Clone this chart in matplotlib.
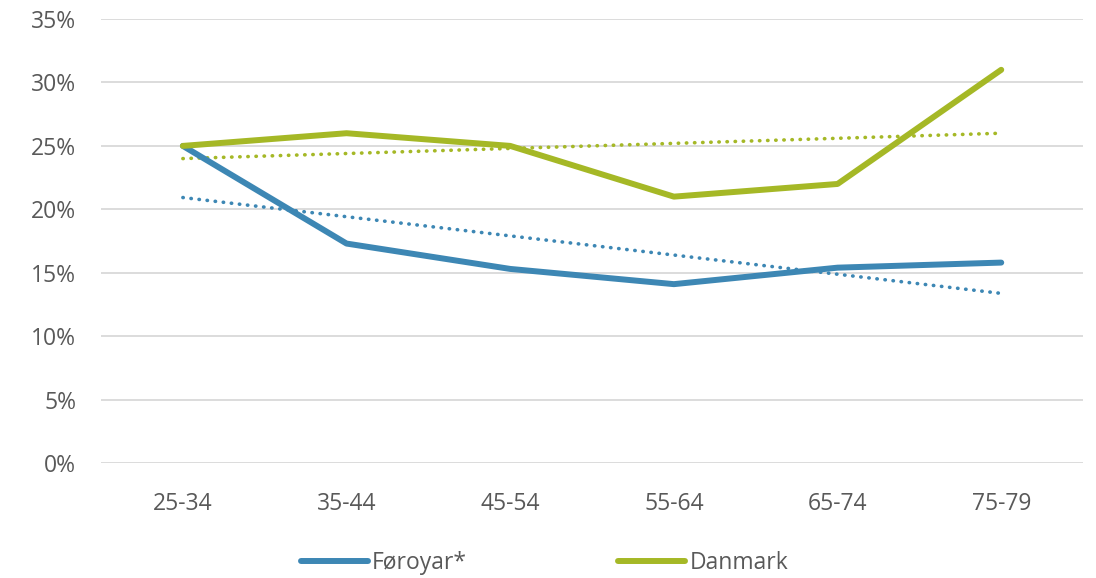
import numpy as np
import matplotlib
matplotlib.use("Agg")
import matplotlib.pyplot as plt
from matplotlib.ticker import FuncFormatter

# age groups and shares (%)
age_groups = ["25-34", "35-44", "45-54", "55-64", "65-74", "75-79"]
foroyar = [25.0, 17.3, 15.3, 14.1, 15.4, 15.8]
danmark = [25.0, 26.0, 25.0, 21.0, 22.0, 31.0]

blue = "#3d87b4"
green = "#a5b826"
text_col = "#595959"

plt.rcParams['font.family'] = ['Open Sans', 'DejaVu Sans']

fig = plt.figure(figsize=(10.96, 5.78), dpi=100)
ax = fig.add_axes([0.0922, 0.199, 0.896, 0.768])

x = np.arange(len(age_groups))

# linear trendlines like Excel
for vals, col in [(foroyar, blue), (danmark, green)]:
    k, b = np.polyfit(x, vals, 1)
    ax.plot(x, k * x + b, color=col, lw=2.6, linestyle=(0, (0.1, 2.15)),
            dash_capstyle='round', zorder=2)

ax.plot(x, foroyar, color=blue, lw=4.3, solid_capstyle='round', label="Føroyar*", zorder=3)
ax.plot(x, danmark, color=green, lw=4.3, solid_capstyle='round', label="Danmark", zorder=3)

ax.set_xlim(-0.5, len(age_groups) - 0.5)
ax.set_ylim(0, 35)
ax.set_yticks(np.arange(0, 36, 5))
ax.yaxis.set_major_formatter(FuncFormatter(lambda v, p: f"{v:.0f}%"))
ax.set_xticks(x)
ax.set_xticklabels(age_groups)
ax.grid(axis='y', color="#d9d9d9", lw=1.3)
ax.set_axisbelow(True)
for s in ax.spines.values():
    s.set_visible(False)
ax.tick_params(length=0, labelsize=16.5, colors=text_col)
ax.tick_params(axis='y', pad=18)
ax.tick_params(axis='x', pad=21)

leg = fig.legend(loc='lower center', bbox_to_anchor=(0.497, -0.03), ncol=2, frameon=False,
                 fontsize=16.5, handlelength=2.9, columnspacing=6.6, handletextpad=0.2)
for t in leg.get_texts():
    t.set_color(text_col)

fig.savefig("out.png", dpi=100)
